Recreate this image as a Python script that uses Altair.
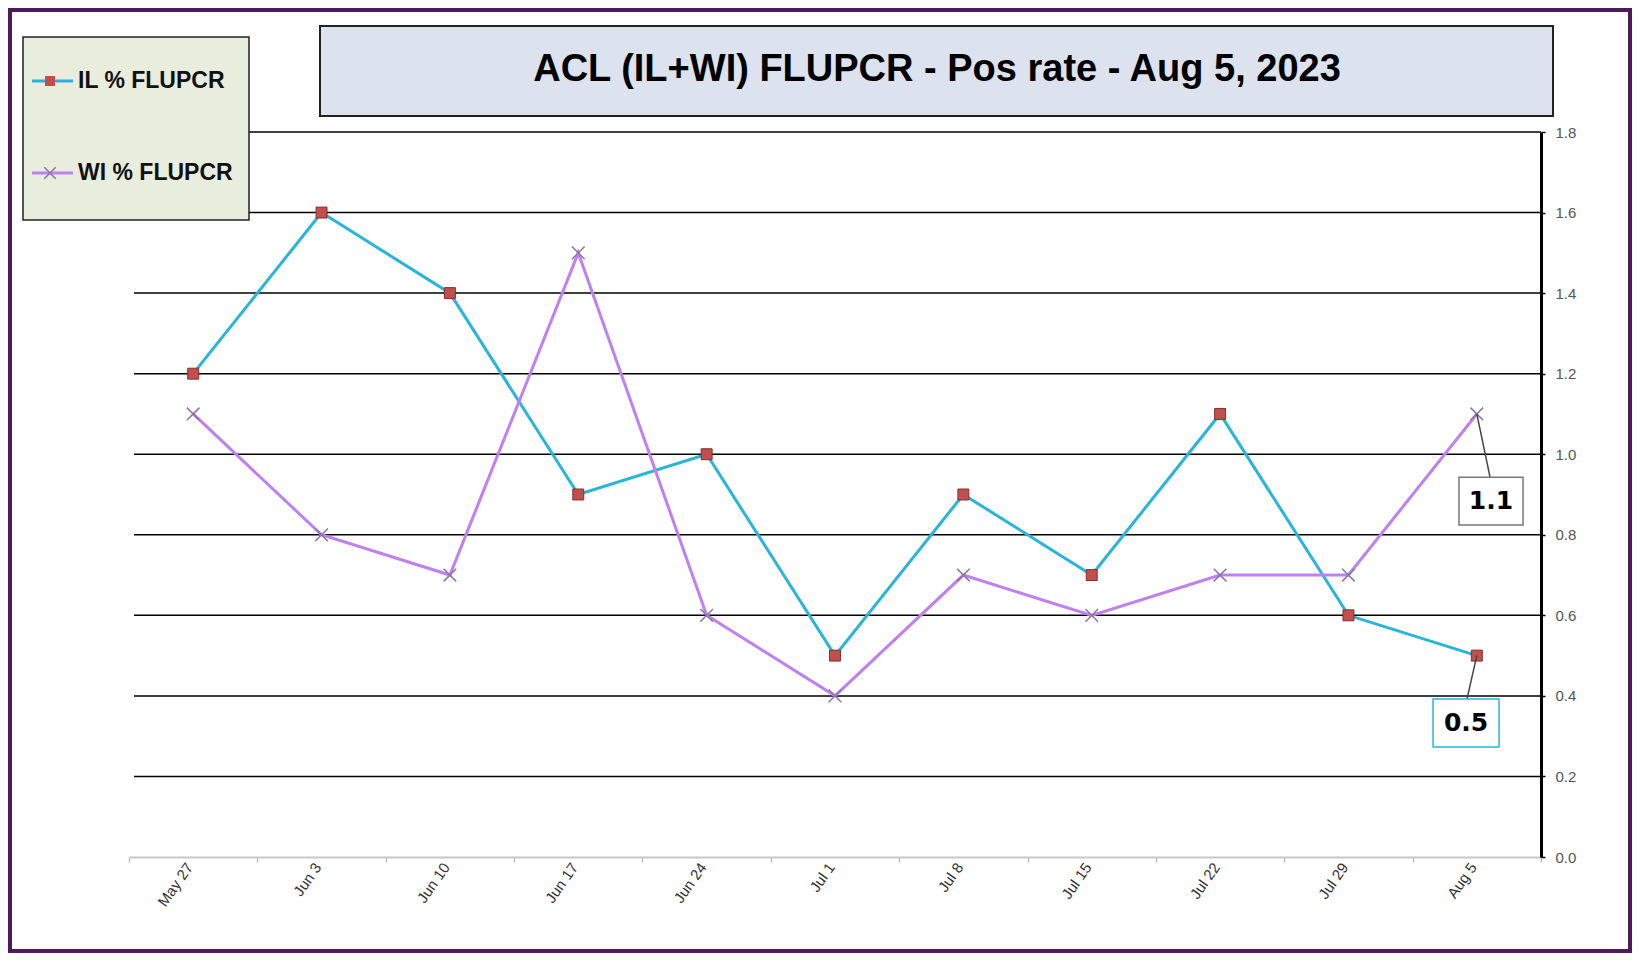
import altair as alt
import pandas as pd

# ---------------- data ----------------
dates = ["May 27", "Jun 3", "Jun 10", "Jun 17", "Jun 24", "Jul 1",
         "Jul 8", "Jul 15", "Jul 22", "Jul 29", "Aug 5"]
il_values = [1.2, 1.6, 1.4, 0.9, 1.0, 0.5, 0.9, 0.7, 1.1, 0.6, 0.5]
wi_values = [1.1, 0.8, 0.7, 1.5, 0.6, 0.4, 0.7, 0.6, 0.7, 0.7, 1.1]
series_names = ["IL % FLUPCR", "WI % FLUPCR"]
y_ticks = [0.0, 0.2, 0.4, 0.6, 0.8, 1.0, 1.2, 1.4, 1.6, 1.8]
title_text = "ACL (IL+WI) FLUPCR -  Pos rate - Aug 5, 2023"
last_labels = ["1.1", "0.5"]

df = pd.DataFrame({"date": dates, "IL": il_values, "WI": wi_values})

# ---------------- styles ----------------
W, H = 1412, 725
IL_COLOR = "#29B5DA"
WI_COLOR = "#C080F0"
IL_MARK = "#C0504D"
WI_MARK = "#8877A0"
XPATH = "M-1,-1L1,1M-1,1L1,-1"
FONT = "Liberation Sans"

xscale = alt.Scale(type="band", domain=dates, paddingInner=0, paddingOuter=0)
xaxis = alt.Axis(orient="bottom", labelAngle=-55, labelFontSize=15, labelColor="#333333",
                 labelFont=FONT, domainColor="#c8c8c8", domainWidth=2, tickColor="#bdbdbd",
                 tickSize=5, tickWidth=1.5, tickBand="extent", labelPadding=2, labelOffset=-4,
                 grid=False, title=None)
yscale = alt.Scale(domain=[0, 1.8], nice=False, zero=True)
yaxis = alt.Axis(orient="right", values=y_ticks, format=".1f", labelFontSize=15,
                 labelColor="#555555", labelFont=FONT, domainColor="black", domainWidth=3,
                 tickColor="black", tickSize=4, tickWidth=1.5, labelPadding=10, grid=False,
                 title=None)


def X(bp=0.5):
    return alt.X("date:N", sort=dates, bandPosition=bp, scale=xscale, axis=xaxis, title=None)


def Y(field):
    return alt.Y(f"{field}:Q", scale=yscale, axis=yaxis, title=None)


one = pd.DataFrame({"k": [0]})

# grid lines
grid = alt.Chart(pd.DataFrame({"v": y_ticks[1:]})).mark_rule(
    color="black", strokeWidth=1.5).encode(y=Y("v"), x=alt.value(5), x2=alt.value(W))

base = alt.Chart(df)
il_line = base.mark_line(color=IL_COLOR, strokeWidth=3).encode(x=X(), y=Y("IL"))
wi_line = base.mark_line(color=WI_COLOR, strokeWidth=3).encode(x=X(), y=Y("WI"))
il_pts = base.mark_point(shape="square", filled=True, size=120, color=IL_MARK,
                         stroke="#8B2E2C", strokeWidth=1, opacity=1).encode(x=X(), y=Y("IL"))
wi_pts = base.mark_point(shape=XPATH, filled=False, size=160, color=WI_MARK,
                         strokeWidth=1.5, opacity=1).encode(x=X(), y=Y("WI"))


def annotation(label, value, box_lo, box_hi, bx0, bx1, leader_bp, box_color):
    d = pd.DataFrame({"date": [dates[-1]], "value": [value], "label": [label],
                      "lo": [box_lo], "hi": [box_hi]})
    c = alt.Chart(d)
    leader = c.mark_rule(color="#444444", strokeWidth=1.5).encode(
        x=X(0.5), x2=alt.X2("date:N", bandPosition=leader_bp),
        y=Y("value"), y2=alt.Y2("hi:Q"))
    box = c.mark_rect(fill="white", stroke=box_color, strokeWidth=1.5).encode(
        x=X(bx0), x2=alt.X2("date:N", bandPosition=bx1), y=Y("lo"), y2=alt.Y2("hi:Q"))
    txt = c.mark_text(font="DejaVu Sans", fontWeight="bold", fontSize=25, color="black",
                      baseline="middle", align="center").encode(
        x=X((bx0 + bx1) / 2), y=alt.Y("mid:Q", scale=yscale, axis=yaxis, title=None),
        text="label:N").transform_calculate(mid="(datum.lo + datum.hi) / 2")
    return [leader, box, txt]


ann_wi = annotation(last_labels[0], wi_values[-1], 0.824, 0.943, 0.361, 0.86, 0.603, "#777777")
ann_il = annotation(last_labels[1], il_values[-1], 0.273, 0.392, 0.159, 0.673, 0.423, "#29B5DA")

# legend box (manual)
leg_box = alt.Chart(one).mark_rect(fill="#E9EDDE", stroke="#222222", strokeWidth=1.5).encode(
    x=alt.value(-106), x2=alt.value(120), y=alt.value(-95), y2=alt.value(88))


def legend_item(name, ypix, line_color, point_mark):
    d = pd.DataFrame({"series": [name]})
    c = alt.Chart(d)
    ln = c.mark_rule(color=line_color, strokeWidth=3).encode(
        x=alt.value(-97), x2=alt.value(-56), y=alt.value(ypix))
    pt = c.mark_point(**point_mark).encode(x=alt.value(-79), y=alt.value(ypix))
    tx = c.mark_text(font=FONT, fontWeight="bold", fontSize=23, color="#111111",
                     align="left", baseline="middle").encode(
        x=alt.value(-51), y=alt.value(ypix), text="series:N")
    return [ln, pt, tx]


leg_il = legend_item(series_names[0], -51, IL_COLOR,
                     dict(shape="square", filled=True, size=100, color=IL_MARK, opacity=1))
leg_wi = legend_item(series_names[1], 41, WI_COLOR,
                     dict(shape=XPATH, filled=False, size=130, color=WI_MARK, strokeWidth=1.5,
                          opacity=1))

# title box
title_box = alt.Chart(one).mark_rect(fill="#DCE3EF", stroke="#222222", strokeWidth=2).encode(
    x=alt.value(191), x2=alt.value(1424), y=alt.value(-106), y2=alt.value(-16))
title_txt = alt.Chart(pd.DataFrame({"t": [title_text]})).mark_text(
    font=FONT, fontWeight="bold", fontSize=38, color="black", align="center",
    baseline="middle").encode(x=alt.value(808), y=alt.value(-62), text="t:N")

# outer purple frame
frame = alt.Chart(one).mark_rect(fill=None, filled=False, stroke="#4D1A5C", strokeWidth=4).encode(
    x=alt.value(-119), x2=alt.value(1501), y=alt.value(-122), y2=alt.value(819))

chart = alt.layer(
    grid, il_line, wi_line, il_pts, wi_pts, *ann_wi, *ann_il,
    leg_box, *leg_il, *leg_wi, title_box, title_txt, frame
).properties(
    width=W, height=H,
    autosize=alt.AutoSizeParams(type="none"),
    padding={"left": 121, "top": 124, "right": 91, "bottom": 96},
    background="white",
).configure_view(stroke=None)

chart.save("out.html", embed_options={"renderer": "svg", "actions": False})
